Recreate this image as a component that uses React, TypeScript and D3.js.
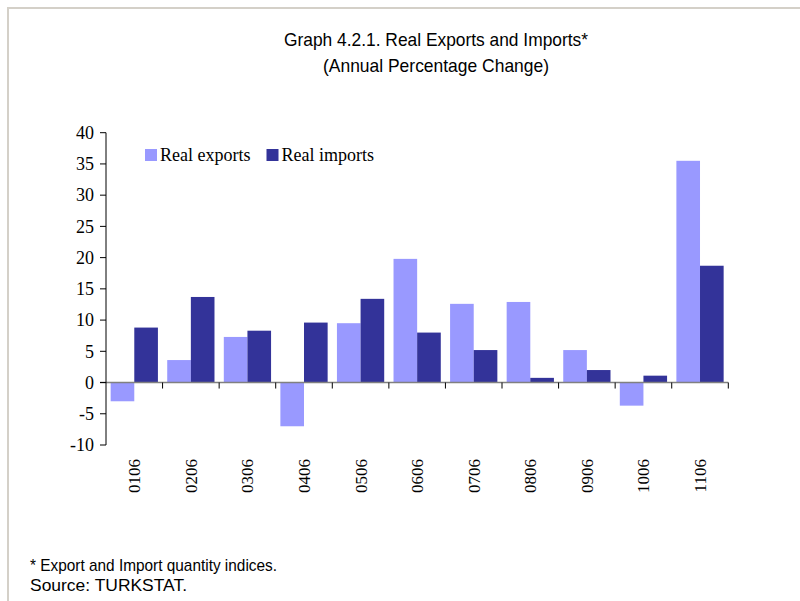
import React, { useEffect, useRef } from 'react';
import * as d3 from 'd3';

const categories = ['0106', '0206', '0306', '0406', '0506', '0606', '0706', '0806', '0906', '1006', '1106'];
const realExports = [-3.0, 3.6, 7.3, -7.0, 9.5, 19.8, 12.6, 12.9, 5.2, -3.7, 35.5];
const realImports = [8.8, 13.7, 8.3, 9.6, 13.4, 8.0, 5.2, 0.75, 2.0, 1.1, 18.7];
const seriesNames = ['Real exports', 'Real imports'];
const seriesColors = ['#9999FF', '#333399'];
const yTicks = [-10, -5, 0, 5, 10, 15, 20, 25, 30, 35, 40];

const width = 800;
const height = 601;
const plot = { left: 106, right: 728.3, top: 132.7, bottom: 445 };

const serif = '"Liberation Serif", "Times New Roman", serif';
const narrow = '"Liberation Sans Narrow", "Arial Narrow", "Liberation Sans", Arial, sans-serif';

const App: React.FC = () => {
  const ref = useRef<SVGSVGElement | null>(null);

  useEffect(() => {
    if (!ref.current) return;
    const svg = d3.select(ref.current);
    svg.selectAll('*').remove();

    svg.append('rect').attr('width', width).attr('height', height).attr('fill', '#fff');

    // frame lines (top & left)
    svg.append('path')
      .attr('d', `M8,${height} L8,8 L${width},8`)
      .attr('fill', 'none')
      .attr('stroke', '#d4d0c8')
      .attr('stroke-width', 2);

    const x = d3.scaleBand<string>().domain(categories).range([plot.left, plot.right]).padding(0);
    const x1 = d3.scaleBand<string>().domain(seriesNames).range([0, x.bandwidth()]).paddingOuter(0.197).paddingInner(0);
    const y = d3.scaleLinear().domain([-10, 40]).range([plot.bottom, plot.top]);

    const rows = categories.map((c, i) => ({ cat: c, vals: [realExports[i], realImports[i]] }));

    const g = svg.append('g');
    rows.forEach(r => {
      r.vals.forEach((v, j) => {
        g.append('rect')
          .attr('x', (x(r.cat) as number) + (x1(seriesNames[j]) as number))
          .attr('width', x1.bandwidth())
          .attr('y', y(Math.max(0, v)))
          .attr('height', Math.abs(y(v) - y(0)))
          .attr('fill', seriesColors[j]);
      });
    });

    // zero line (category axis)
    svg.append('line')
      .attr('x1', plot.left - 6).attr('x2', plot.right)
      .attr('y1', y(0)).attr('y2', y(0))
      .attr('stroke', '#808080').attr('stroke-width', 1.5);

    // category ticks
    const bounds = categories.map(c => x(c) as number).concat([plot.right]);
    bounds.slice(1).forEach(bx => {
      svg.append('line')
        .attr('x1', bx).attr('x2', bx)
        .attr('y1', y(0)).attr('y2', y(0) + 6)
        .attr('stroke', '#000').attr('stroke-width', 1);
    });

    // y axis
    svg.append('line')
      .attr('x1', plot.left).attr('x2', plot.left)
      .attr('y1', plot.top).attr('y2', plot.bottom)
      .attr('stroke', '#000').attr('stroke-width', 1);
    yTicks.forEach(t => {
      svg.append('line')
        .attr('x1', plot.left - 6).attr('x2', plot.left)
        .attr('y1', y(t)).attr('y2', y(t))
        .attr('stroke', '#000');
      svg.append('text')
        .attr('x', plot.left - 12)
        .attr('y', y(t))
        .attr('dy', '0.35em')
        .attr('text-anchor', 'end')
        .style('font-family', serif)
        .style('font-size', '18px')
        .attr('fill', '#000')
        .text(String(t));
    });

    // category labels (rotated)
    categories.forEach(c => {
      const cx = (x(c) as number) + x.bandwidth() / 2;
      svg.append('text')
        .attr('transform', `translate(${cx},${plot.bottom + 14}) rotate(-90)`)
        .attr('text-anchor', 'end')
        .attr('dy', '0.35em')
        .style('font-family', serif)
        .style('font-size', '17px')
        .attr('fill', '#000')
        .text(c);
    });

    // legend
    const legendX = [145, 266.5];
    seriesNames.forEach((n, i) => {
      svg.append('rect')
        .attr('x', legendX[i]).attr('y', 149)
        .attr('width', 12).attr('height', 12)
        .attr('fill', seriesColors[i]);
      svg.append('text')
        .attr('x', legendX[i] + 15)
        .attr('y', 161)
        .style('font-family', serif)
        .style('font-size', '18px')
        .attr('fill', '#000')
        .text(n);
    });

    // title (condensed to mimic Arial Narrow)
    const title = ['Graph 4.2.1. Real Exports and Imports*', '(Annual Percentage Change)'];
    const titleLen = [304, 226];
    title.forEach((t, i) => {
      svg.append('text')
        .attr('x', 436)
        .attr('y', 46 + i * 26)
        .attr('text-anchor', 'middle')
        .attr('textLength', titleLen[i])
        .attr('lengthAdjust', 'spacingAndGlyphs')
        .style('font-family', narrow)
        .style('font-size', '19px')
        .attr('fill', '#000')
        .text(t);
    });

    // footnotes
    const notes = ['* Export and Import quantity indices.', 'Source: TURKSTAT.'];
    const noteLen = [247, 157];
    notes.forEach((t, i) => {
      svg.append('text')
        .attr('x', 30)
        .attr('y', 571 + i * 20)
        .attr('textLength', noteLen[i])
        .attr('lengthAdjust', 'spacingAndGlyphs')
        .style('font-family', narrow)
        .style('font-size', '17px')
        .attr('fill', '#000')
        .text(t);
    });
  }, []);

  return (
    <svg
      ref={ref}
      width={width}
      height={height}
      style={{ position: 'absolute', left: 0, top: 0, display: 'block' }}
    />
  );
};

export default App;
